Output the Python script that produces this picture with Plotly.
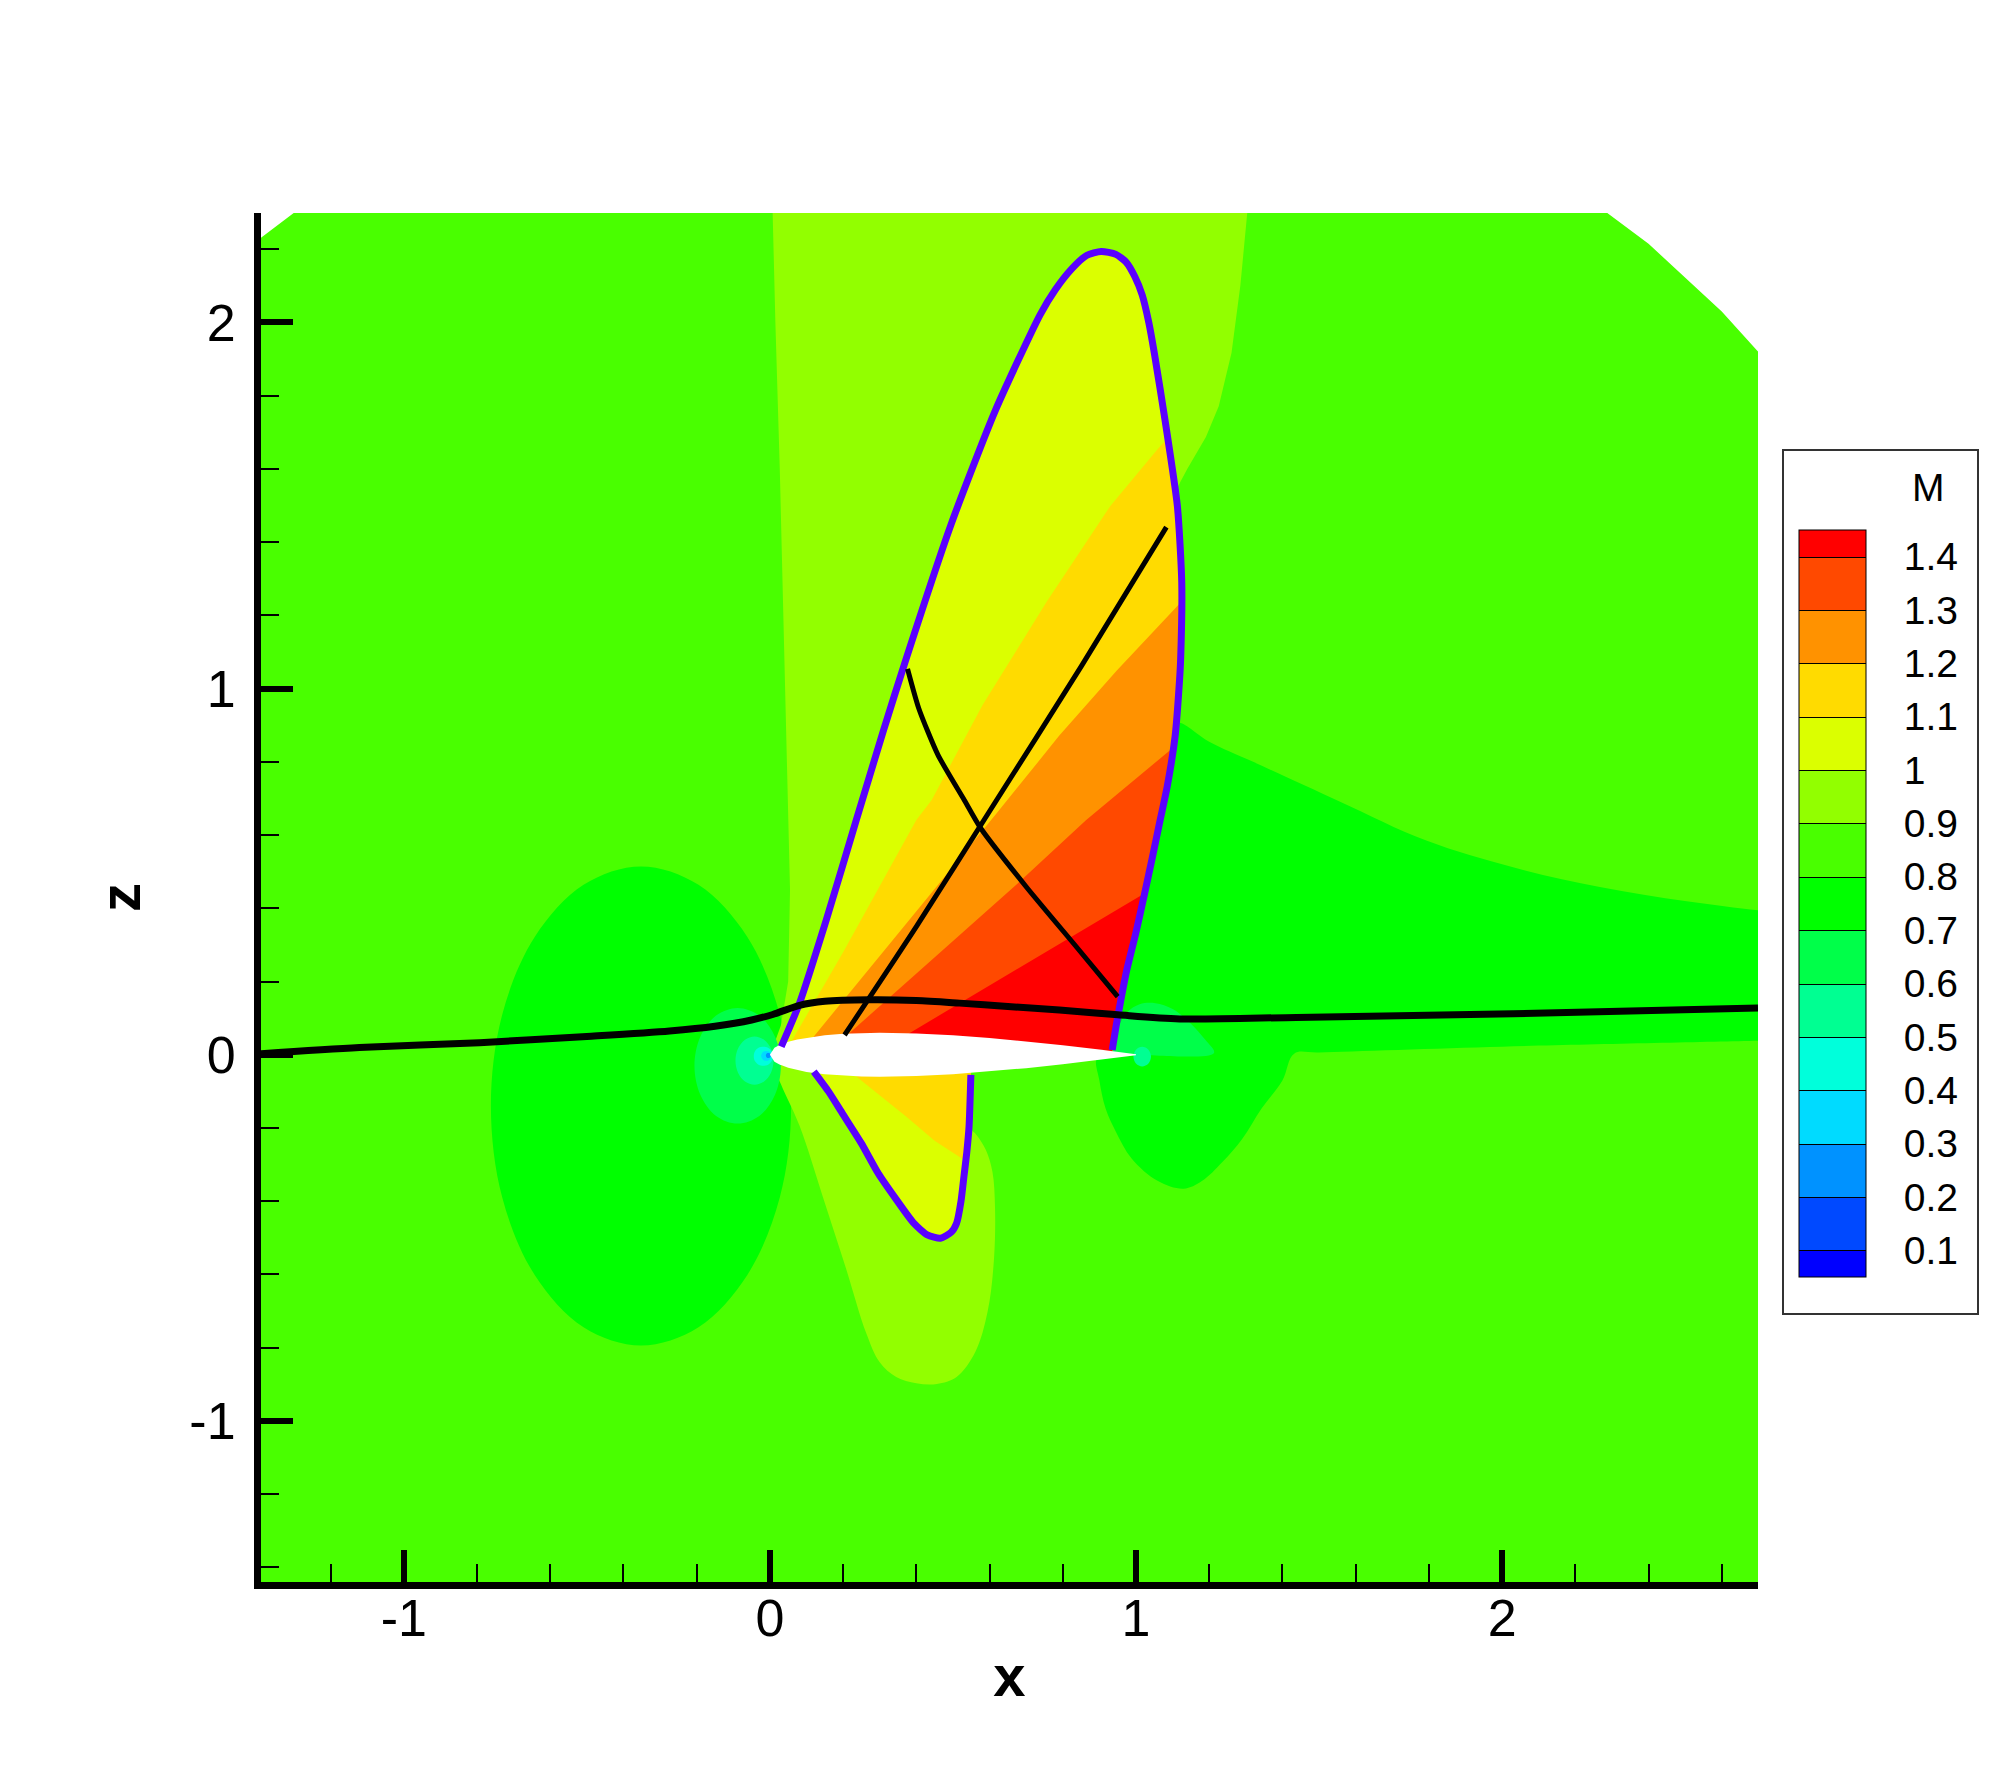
import plotly.graph_objects as go
import numpy as np

# ---------------- contour levels / legend ----------------
LEVELS = [0.1, 0.2, 0.3, 0.4, 0.5, 0.6, 0.7, 0.8, 0.9, 1.0, 1.1, 1.2, 1.3, 1.4]
LEVEL_TEXT = ["0.1", "0.2", "0.3", "0.4", "0.5", "0.6", "0.7", "0.8", "0.9", "1", "1.1", "1.2", "1.3", "1.4"]
BAND_COLORS = ["#0000FF", "#0049FF", "#0092FF", "#00DBFF", "#00FFDB", "#00FF92", "#00FF49",
               "#00FF00", "#49FF00", "#92FF00", "#DBFF00", "#FFDB00", "#FF9200", "#FF4900", "#FF0000"]
X_TICKS = [-1, 0, 1, 2]
X_TICK_TEXT = ["-1", "0", "1", "2"]
Z_TICKS = [-1, 0, 1, 2]
Z_TICK_TEXT = ["-1", "0", "1", "2"]

# ---------------- region boundaries (x, z) ----------------
DOMAIN_X = [-1.5, 2.8, 2.8, 2.697, 2.60, 2.497, 2.40, 2.286, 2.20, -1.207, -1.5]
DOMAIN_Z = [-1.6, -1.6, 1.80, 1.923, 2.03, 2.126, 2.215, 2.300, 2.37, 2.37, 2.148]

LEFT_DARK_X = [0.058, 0.027, -0.062, -0.195, -0.352, -0.509, -0.642, -0.731, -0.762, -0.731, -0.642, -0.509,
               -0.352, -0.195, -0.062, 0.027, 0.058]
LEFT_DARK_Z = [-0.140, 0.110, 0.322, 0.464, 0.514, 0.464, 0.322, 0.110, -0.140, -0.390, -0.602, -0.744,
               -0.794, -0.744, -0.602, -0.390, -0.140]

UP_LIGHT_X = [0.005, 0.007, 0.015, 0.027, 0.040, 0.050, 0.055, 0.050, 0.030, 0.004, 0.300, 0.500, 1.000,
              1.108, 1.140, 1.191, 1.226, 1.261, 1.285, 1.304, 1.310]
UP_LIGHT_Z = [2.400, 2.300, 2.000, 1.600, 1.100, 0.700, 0.450, 0.200, 0.080, 0.008, 0.000, 0.300, 1.000,
              1.540, 1.600, 1.687, 1.771, 1.917, 2.100, 2.300, 2.400]

LOW_LIGHT_X = [0.004, 0.030, 0.081, 0.145, 0.208, 0.263, 0.300, 0.345, 0.400, 0.456, 0.510, 0.561, 0.595,
               0.612, 0.615, 0.608, 0.590, 0.565, 0.540, 0.540, 0.300, 0.004]
LOW_LIGHT_Z = [-0.008, -0.080, -0.194, -0.389, -0.584, -0.760, -0.840, -0.880, -0.897, -0.899, -0.880,
               -0.812, -0.700, -0.560, -0.420, -0.320, -0.260, -0.220, -0.190, -0.030, -0.010, -0.008]

RIGHT_DARK_X = [1.119, 1.200, 1.320, 1.556, 1.793, 2.030, 2.267, 2.504, 2.703, 2.800, 2.800, 2.703, 2.000,
                1.500, 1.432, 1.400, 1.343, 1.290, 1.236, 1.180, 1.130, 1.060, 0.988, 0.945, 0.917, 0.900,
                0.893, 0.930, 0.930, 1.000, 1.060, 1.100, 1.119]
RIGHT_DARK_Z = [0.907, 0.855, 0.800, 0.692, 0.585, 0.512, 0.458, 0.419, 0.394, 0.385, 0.040, 0.038, 0.022,
                0.006, 0.003, -0.070, -0.147, -0.230, -0.293, -0.345, -0.366, -0.345, -0.283, -0.210,
                -0.147, -0.070, -0.010, 0.000, 0.100, 0.400, 0.700, 0.900, 0.907]

TE_BLOB_X = [0.940, 0.950, 0.975, 1.010, 1.053, 1.100, 1.150, 1.190, 1.213, 1.000, 0.940]
TE_BLOB_Z = [0.003, 0.070, 0.115, 0.138, 0.141, 0.125, 0.085, 0.040, 0.005, 0.000, 0.003]
TE_DOT_X = [0.993, 1.000, 1.017, 1.034, 1.041, 1.034, 1.017, 1.000, 0.993]
TE_DOT_Z = [-0.005, 0.014, 0.022, 0.014, -0.005, -0.024, -0.032, -0.024, -0.005]

# sonic line (M = 1), upper and lower supersonic pockets
SONIC_UP_X = [0.031, 0.081, 0.154, 0.236, 0.310, 0.372, 0.494, 0.616, 0.738, 0.780, 0.825, 0.865, 0.905,
              0.945, 0.973, 0.997, 1.017, 1.035, 1.050, 1.080, 1.113, 1.125, 1.122, 1.119, 1.107, 1.085,
              1.066, 1.045, 1.023, 0.999, 0.975, 0.958, 0.946, 0.935]
SONIC_UP_Z = [0.022, 0.141, 0.368, 0.641, 0.885, 1.081, 1.446, 1.760, 2.021, 2.090, 2.147, 2.183, 2.194,
              2.186, 2.165, 2.125, 2.075, 2.000, 1.917, 1.729, 1.499, 1.290, 1.081, 1.024, 0.871, 0.731,
              0.641, 0.540, 0.438, 0.330, 0.232, 0.146, 0.080, 0.013]
SONIC_LO_X = [0.120, 0.160, 0.198, 0.250, 0.296, 0.345, 0.393, 0.430, 0.466, 0.495, 0.510, 0.522, 0.530,
              0.538, 0.544, 0.549]
SONIC_LO_Z = [-0.046, -0.100, -0.160, -0.242, -0.324, -0.395, -0.460, -0.492, -0.501, -0.485, -0.460,
              -0.400, -0.333, -0.265, -0.196, -0.055]

# band boundaries inside upper pocket (from airfoil to sonic line)
B12_X = [0.060, 0.200, 0.400, 0.442, 0.581, 0.756, 0.930, 1.060, 1.092]
B12_Z = [0.038, 0.280, 0.641, 0.696, 0.955, 1.237, 1.499, 1.655, 1.690]
B13_X = [0.120, 0.350, 0.620, 0.790, 0.947, 1.124]
B13_Z = [0.050, 0.330, 0.660, 0.871, 1.049, 1.237]
B14_X = [0.217, 0.673, 0.864, 0.930, 1.103]
B14_Z = [0.059, 0.464, 0.641, 0.696, 0.840]
B15_X = [0.381, 1.024]
B15_Z = [0.059, 0.441]
# band boundary inside lower pocket
LB12_X = [0.237, 0.373, 0.450, 0.535]
LB12_Z = [-0.060, -0.169, -0.235, -0.290]

# leading edge stagnation blobs
LE6_X = [0.030, 0.014, -0.029, -0.088, -0.147, -0.190, -0.206, -0.190, -0.147, -0.088, -0.029, 0.014, 0.030]
LE6_Z = [-0.030, 0.049, 0.107, 0.128, 0.107, 0.049, -0.030, -0.109, -0.167, -0.188, -0.167, -0.109, -0.030]
LE5_X = [0.010, 0.003, -0.016, -0.042, -0.068, -0.087, -0.094, -0.087, -0.068, -0.042, -0.016, 0.003, 0.010]
LE5_Z = [-0.016, 0.017, 0.041, 0.050, 0.041, 0.017, -0.016, -0.049, -0.073, -0.082, -0.073, -0.049, -0.016]
LE4_X = [0.008, 0.005, -0.005, -0.018, -0.031, -0.041, -0.044, -0.041, -0.031, -0.018, -0.005, 0.005, 0.008]
LE4_Z = [-0.004, 0.009, 0.019, 0.022, 0.019, 0.009, -0.004, -0.017, -0.027, -0.030, -0.027, -0.017, -0.004]
LE3_X = [0.004, -0.003, -0.017, -0.024, -0.017, -0.003, 0.004]
LE3_Z = [-0.003, 0.009, 0.009, -0.003, -0.015, -0.015, -0.003]
LE2_X = [0.003, -0.001, -0.008, -0.011, -0.008, -0.001, 0.003]
LE2_Z = [-0.002, 0.004, 0.004, -0.002, -0.008, -0.008, -0.002]

# airfoil (NACA 0012 ordinates)
AF_X = [1.0, 0.95, 0.9, 0.8, 0.7, 0.6, 0.5, 0.4, 0.3, 0.25, 0.2, 0.15, 0.1, 0.075, 0.05, 0.025, 0.0125, 0.0]
AF_T = [0.00126, 0.00807, 0.01448, 0.02623, 0.03664, 0.04563, 0.05294, 0.05803, 0.06002, 0.05941, 0.05737,
        0.05345, 0.04683, 0.04200, 0.03555, 0.02615, 0.01894, 0.0]

# black lines
STREAM_X = [-1.390, -1.121, -0.793, -0.500, -0.274, -0.150, -0.050, 0.008, 0.081, 0.150, 0.272, 0.400,
            0.518, 0.650, 0.791, 0.950, 1.119, 1.438, 2.030, 2.699]
STREAM_Z = [0.003, 0.020, 0.033, 0.050, 0.065, 0.078, 0.095, 0.110, 0.135, 0.146, 0.150, 0.148, 0.141,
            0.132, 0.122, 0.109, 0.098, 0.102, 0.112, 0.128]
CHAR1_X = [0.204, 0.400, 0.600, 0.850, 1.083]
CHAR1_Z = [0.054, 0.350, 0.665, 1.060, 1.441]
CHAR2_X = [0.376, 0.407, 0.459, 0.529, 0.575, 0.700, 0.837, 0.950]
CHAR2_Z = [1.054, 0.945, 0.819, 0.699, 0.620, 0.459, 0.295, 0.159]

FONT = "Liberation Sans, Arial, Helvetica, sans-serif"

fig = go.Figure()


def poly(xs, zs, color, smooth=False):
    line = dict(width=0, color=color)
    if smooth:
        line.update(shape="spline", smoothing=1.0)
    fig.add_trace(go.Scatter(x=list(xs), y=list(zs), mode="lines", fill="toself", fillcolor=color,
                             line=line, hoverinfo="skip", showlegend=False))


# upper pocket right branch (after apex)
apex = int(np.argmax(SONIC_UP_Z))
RX = SONIC_UP_X[apex:]
RZ = SONIC_UP_Z[apex:]


def upper_band(bx, bz):
    zend = bz[-1]
    px = list(bx) + [x for x, z in zip(RX, RZ) if z < zend] + [RX[-1], bx[0]]
    pz = list(bz) + [z for z in RZ if z < zend] + [0.0, 0.0]
    return px, pz


lo = int(np.argmin(SONIC_LO_Z))
LRX = SONIC_LO_X[lo:]
LRZ = SONIC_LO_Z[lo:]


def lower_band(bx, bz):
    zend = bz[-1]
    px = list(bx) + [x for x, z in zip(LRX, LRZ) if z > zend] + [LRX[-1], bx[0]]
    pz = list(bz) + [z for z in LRZ if z > zend] + [0.0, 0.0]
    return px, pz


# background domain (0.8-0.9)
poly(DOMAIN_X, DOMAIN_Z, BAND_COLORS[8])
poly(LEFT_DARK_X, LEFT_DARK_Z, BAND_COLORS[7], smooth=True)
poly(UP_LIGHT_X, UP_LIGHT_Z, BAND_COLORS[9])
poly(LOW_LIGHT_X, LOW_LIGHT_Z, BAND_COLORS[9], smooth=True)
poly(RIGHT_DARK_X, RIGHT_DARK_Z, BAND_COLORS[7], smooth=True)
poly(TE_BLOB_X, TE_BLOB_Z, BAND_COLORS[6], smooth=True)
poly(TE_DOT_X, TE_DOT_Z, BAND_COLORS[5], smooth=True)

# upper supersonic pocket
poly(SONIC_UP_X + [SONIC_UP_X[-1], SONIC_UP_X[0]], SONIC_UP_Z + [0.0, 0.0], BAND_COLORS[10])
for bx, bz, c in [(B12_X, B12_Z, 11), (B13_X, B13_Z, 12), (B14_X, B14_Z, 13), (B15_X, B15_Z, 14)]:
    px, pz = upper_band(bx, bz)
    poly(px, pz, BAND_COLORS[c])

# lower supersonic pocket
poly(SONIC_LO_X + [SONIC_LO_X[-1], SONIC_LO_X[0]], SONIC_LO_Z + [0.0, 0.0], BAND_COLORS[10])
px, pz = lower_band(LB12_X, LB12_Z)
poly(px, pz, BAND_COLORS[11])

# leading-edge blobs
poly(LE6_X, LE6_Z, BAND_COLORS[6], smooth=True)
poly(LE5_X, LE5_Z, BAND_COLORS[5], smooth=True)
poly(LE4_X, LE4_Z, BAND_COLORS[4], smooth=True)
poly(LE3_X, LE3_Z, BAND_COLORS[3], smooth=True)
poly(LE2_X, LE2_Z, BAND_COLORS[2], smooth=True)

# airfoil (blank)
afx = AF_X + AF_X[::-1][1:]
afz = AF_T + [-t for t in AF_T[::-1][1:]]
poly(afx, afz, "white")

# sonic lines
for sx, sz in [(SONIC_UP_X, SONIC_UP_Z), (SONIC_LO_X, SONIC_LO_Z)]:
    fig.add_trace(go.Scatter(x=sx, y=sz, mode="lines", line=dict(color="#5A00FF", width=7, shape="spline",
                                                                   smoothing=0.6),
                             hoverinfo="skip", showlegend=False))

# black lines
fig.add_trace(go.Scatter(x=STREAM_X, y=STREAM_Z, mode="lines",
                         line=dict(color="black", width=7, shape="spline", smoothing=0.8),
                         hoverinfo="skip", showlegend=False))
for cx, cz in [(CHAR1_X, CHAR1_Z), (CHAR2_X, CHAR2_Z)]:
    fig.add_trace(go.Scatter(x=cx, y=cz, mode="lines",
                             line=dict(color="black", width=5, shape="spline", smoothing=0.6),
                             hoverinfo="skip", showlegend=False))

# page geometry (the page body adds an 8 px offset)
L, T = 253, 205
PW, PH = 1497.0, 1369.0
FW, FH = 1984, 1762
R, B = FW - L - int(PW), FH - T - int(PH)


def px_x(full_x):
    return (full_x - 8 - L) / PW


def px_y(full_y):
    return (T + PH - (full_y - 8)) / PH


# colour legend (hidden contour trace outside the axes, only for its colorbar)
n = len(BAND_COLORS)
cscale = [[k / (n - 1), BAND_COLORS[k]] for k in range(n)]
fig.add_trace(go.Contour(
    z=[[0.0, 1.5], [0.0, 1.5]], x=[10, 11], y=[10, 11],
    autocontour=False, contours=dict(start=LEVELS[0], end=LEVELS[-1], size=0.1, coloring="fill",
                                     showlines=True),
    line=dict(color="black", width=1), colorscale=cscale, hoverinfo="skip", showscale=True,
    colorbar=dict(lenmode="pixels", len=747, thicknessmode="pixels", thickness=67,
                  x=px_x(1799), xanchor="left", xpad=0,
                  y=px_y(903.5), yanchor="middle", ypad=0,
                  outlinewidth=1, outlinecolor="black", borderwidth=0,
                  tickmode="array", tickvals=LEVELS, ticktext=LEVEL_TEXT,
                  ticks="outside", ticklen=30, tickcolor="rgba(0,0,0,0)", tickwidth=1,
                  tickfont=dict(size=39, family=FONT, color="black")),
))

fig.add_shape(type="rect", xref="paper", yref="paper",
              x0=px_x(1783), x1=px_x(1978), y0=px_y(1314), y1=px_y(450),
              line=dict(color="#333333", width=2), fillcolor="rgba(0,0,0,0)")
fig.add_annotation(text="M", xref="paper", yref="paper", x=px_x(1928), y=px_y(487),
                   showarrow=False, font=dict(size=39, family=FONT, color="black"),
                   xanchor="center", yanchor="middle")

axis_common = dict(showgrid=False, zeroline=False, showline=True, linecolor="black", linewidth=7,
                   ticks="inside", ticklen=32, tickwidth=6, tickcolor="black", tickmode="array",
                   minor=dict(ticks="inside", ticklen=18, tickwidth=2, tickmode="linear", dtick=0.2, tick0=0,
                              tickcolor="black", showgrid=False),
                   tickfont=dict(size=52, family=FONT, color="black"))

fig.update_layout(
    width=FW, height=FH,
    margin=dict(l=L, r=R, t=T, b=B, autoexpand=False),
    plot_bgcolor="white", paper_bgcolor="white", showlegend=False,
    xaxis=dict(range=[-1.390, 2.699], tickvals=X_TICKS, ticktext=X_TICK_TEXT, ticklabelstandoff=-15,
               title=dict(text="<b>x</b>", standoff=11, font=dict(size=58, family=FONT, color="black")),
               **axis_common),
    yaxis=dict(range=[-1.440, 2.299], tickvals=Z_TICKS, ticktext=Z_TICK_TEXT, ticklabelstandoff=8,
               title=dict(text="<b>z</b>", standoff=33, font=dict(size=58, family=FONT, color="black")),
               **axis_common),
)

fig.write_html("out.html")
